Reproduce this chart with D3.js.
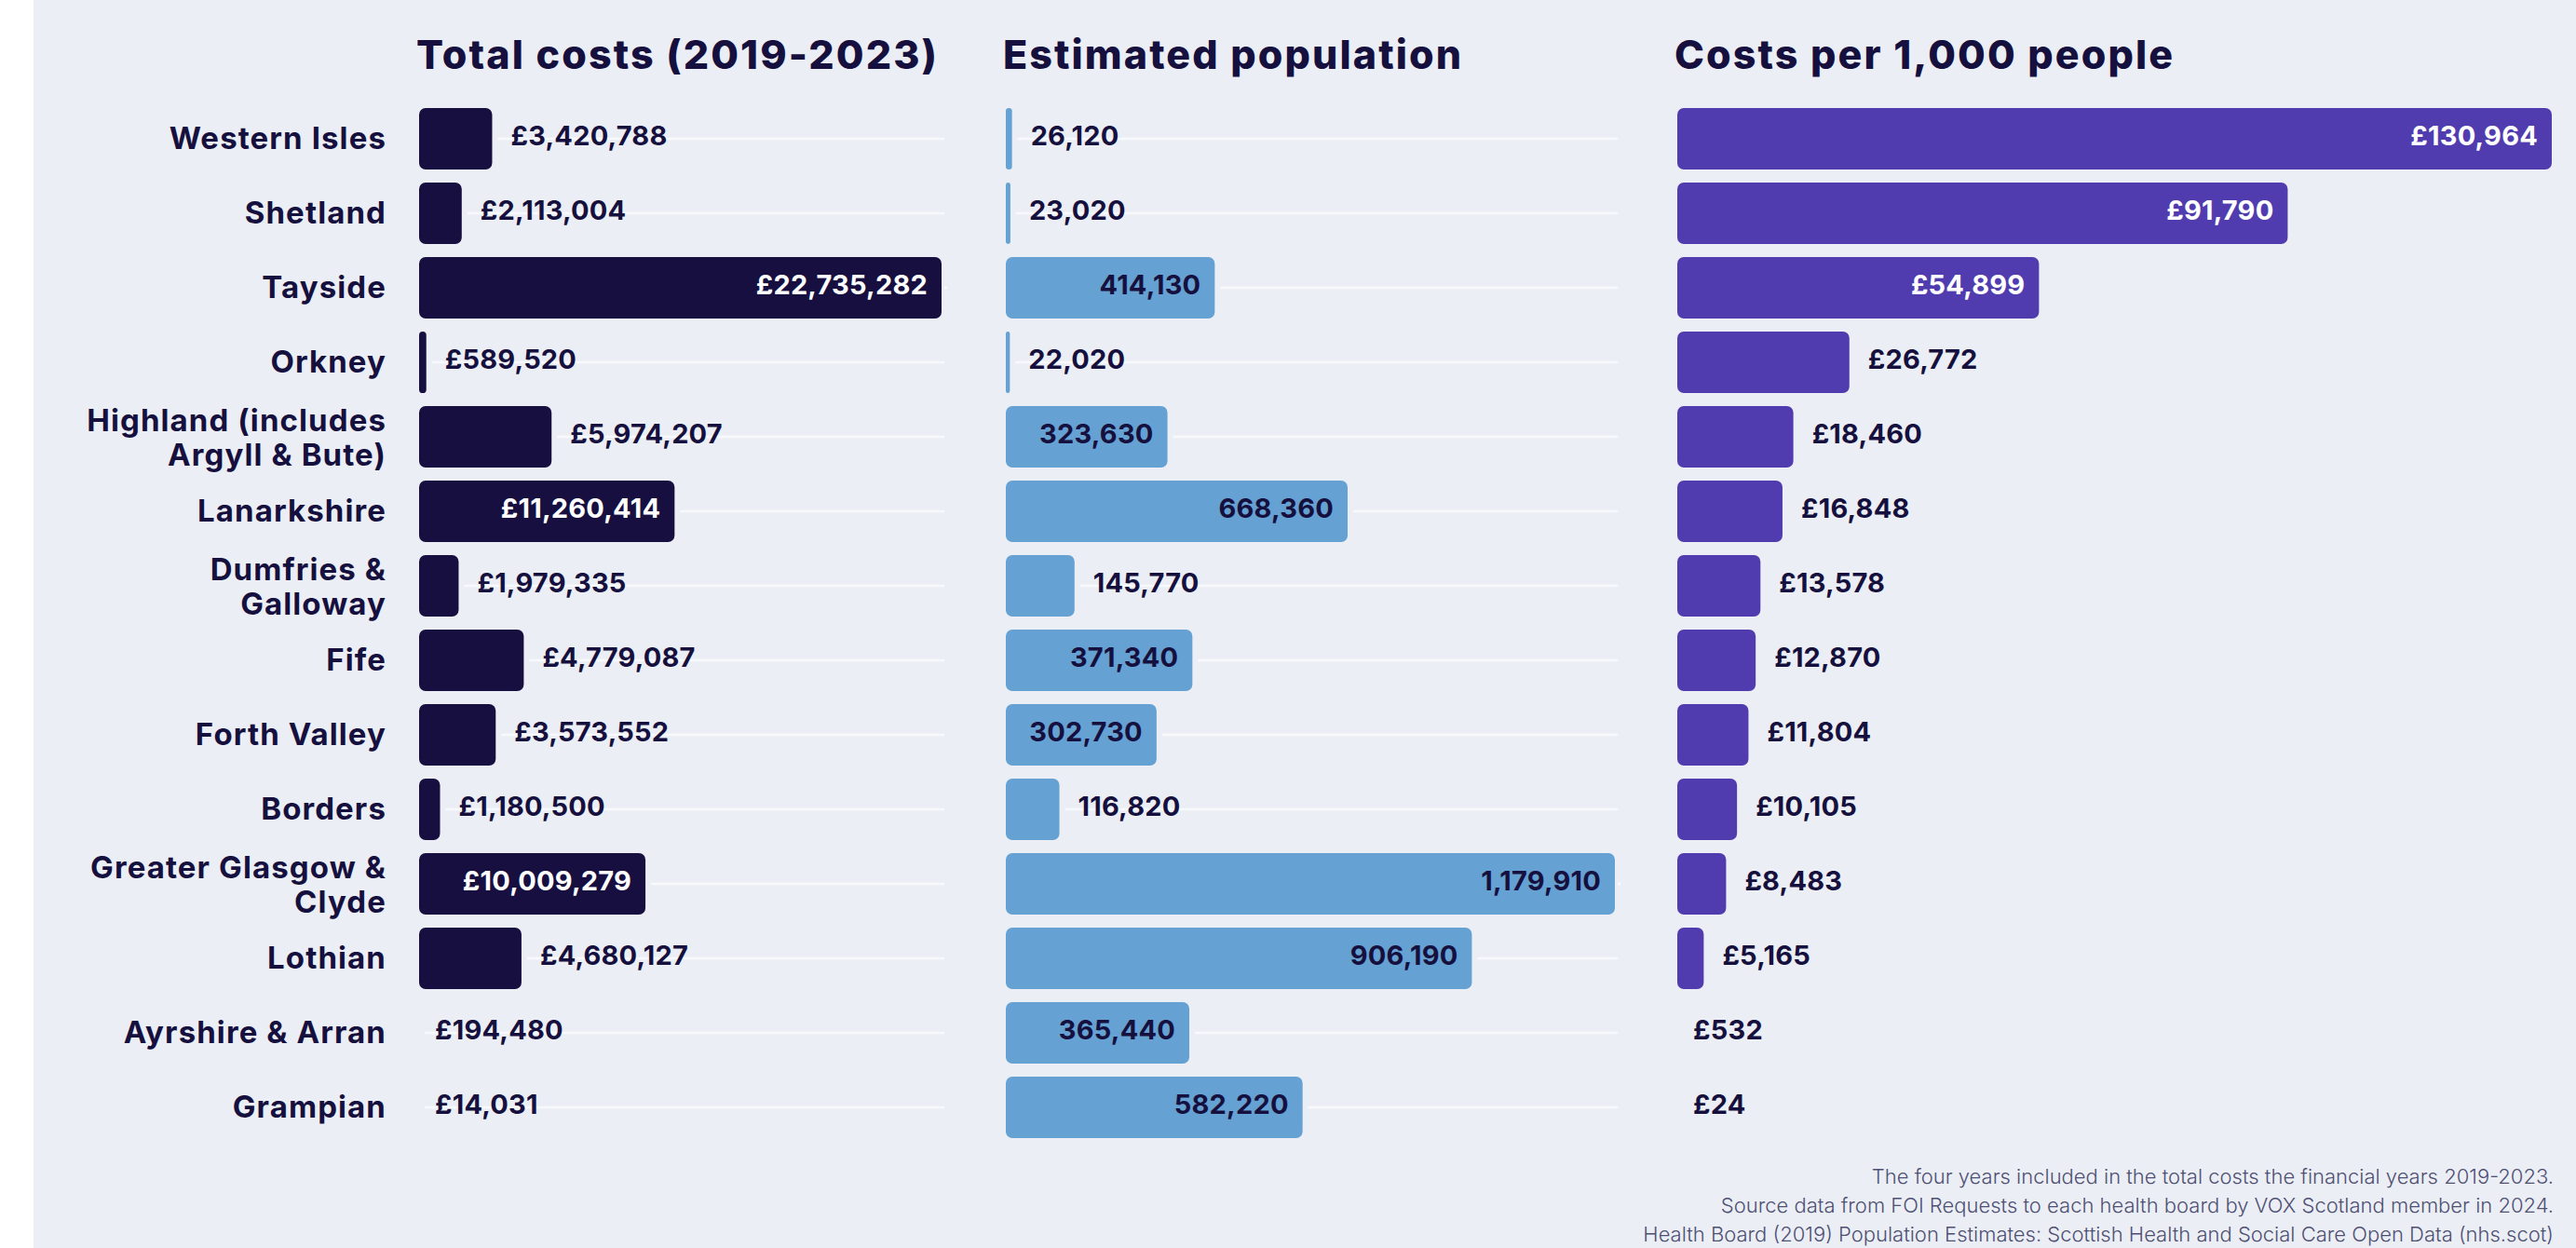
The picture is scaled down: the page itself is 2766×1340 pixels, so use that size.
<!DOCTYPE html>
<html>
<head>
<meta charset="utf-8">
<script src="https://cdn.jsdelivr.net/npm/d3@7"></script>
<style>
  html, body { margin: 0; padding: 0; background: #ffffff; }
  svg { display: block; }
</style>
</head>
<body>
<svg id="chart" width="2766" height="1340"></svg>
<script>
// ---- data ----
const categories = [
  "Western Isles", "Shetland", "Tayside", "Orkney",
  "Highland (includes\nArgyll & Bute)", "Lanarkshire", "Dumfries &\nGalloway",
  "Fife", "Forth Valley", "Borders", "Greater Glasgow &\nClyde", "Lothian",
  "Ayrshire & Arran", "Grampian"
];
const totalCosts = [3420788, 2113004, 22735282, 589520, 5974207, 11260414, 1979335,
  4779087, 3573552, 1180500, 10009279, 4680127, 194480, 14031];
const population = [26120, 23020, 414130, 22020, 323630, 668360, 145770,
  371340, 302730, 116820, 1179910, 906190, 365440, 582220];
const costsPer1000 = [130964, 91790, 54899, 26772, 18460, 16848, 13578,
  12870, 11804, 10105, 8483, 5165, 532, 24];
const panelTitles = ["Total costs (2019-2023)", "Estimated population", "Costs per 1,000 people"];
// labels drawn inside the bar
const insideTotal = ["Tayside", "Lanarkshire", "Greater Glasgow &\nClyde"];
const insidePopulation = ["Tayside", "Highland (includes\nArgyll & Bute)", "Lanarkshire", "Fife",
  "Forth Valley", "Greater Glasgow &\nClyde", "Lothian", "Ayrshire & Arran", "Grampian"];
const insidePer1000 = ["Western Isles", "Shetland", "Tayside"];
const notes = [
  "The four years included in the total costs the financial years 2019-2023.",
  "Source data from FOI Requests to each health board by VOX Scotland member in 2024.",
  "Health Board (2019) Population Estimates: Scottish Health and Social Care Open Data (nhs.scot)"
];

// ---- styling ----
const W = 2766, H = 1340;
const ink = "#16103e";
const bg = "#ebeff5";
const font = "Inter, 'Noto Sans', sans-serif";

const svg = d3.select("#chart");
svg.append("rect").attr("x", 36).attr("y", 0).attr("width", W - 36).attr("height", H).attr("fill", bg);

const y = d3.scaleBand().domain(categories).range([109, 1229]).paddingInner(0.175).paddingOuter(0.0875);

// category labels
const catG = svg.append("g");
categories.forEach(c => {
  const lines = c.split("\n");
  const cy = y(c) + y.bandwidth() / 2;
  const lx = 415;
  const t = catG.append("text")
    .attr("x", lx)
    .attr("text-anchor", "end")
    .attr("font-family", font).attr("font-weight", 700).attr("font-size", 33)
    .attr("letter-spacing", 1.1)
    .attr("fill", ink);
  if (lines.length === 1) {
    t.attr("y", cy + 11).text(c);
  } else {
    t.append("tspan").attr("x", lx).attr("y", cy - 6).text(lines[0]);
    t.append("tspan").attr("x", lx).attr("y", cy + 31).text(lines[1]);
  }
});

const panels = [
  { values: totalCosts, x0: 450, x1: 1011, inset: 7, color: "#160f3f", insideInk: "#ffffff",
    inside: insideTotal, fmt: v => "£" + d3.format(",")(v), grid: true, title: panelTitles[0] },
  { values: population, x0: 1080, x1: 1734, inset: 8, color: "#65a1d3", insideInk: ink,
    inside: insidePopulation, fmt: v => d3.format(",")(v), grid: true, title: panelTitles[1] },
  { values: costsPer1000, x0: 1801, x1: 2740, inset: 9, color: "#513caf", insideInk: "#ffffff",
    inside: insidePer1000, fmt: v => "£" + d3.format(",")(v), grid: false, title: panelTitles[2] }
];

panels.forEach(p => {
  const x = d3.scaleLinear().domain([0, d3.max(p.values)]).range([p.x0 - p.inset, p.x1]);
  const g = svg.append("g");
  const rows = categories.map((c, i) => ({ c, v: p.values[i] }));

  g.append("text")
    .attr("x", p.x0 - 3).attr("y", 74)
    .attr("font-family", font).attr("font-weight", 800).attr("font-size", 43)
    .attr("letter-spacing", 2.1)
    .attr("fill", ink).text(p.title);

  const barEnd = d => Math.max(p.x0, x(d.v));

  if (p.grid) {
    g.selectAll("line.grid").data(rows).join("line")
      .attr("x1", d => barEnd(d) + 6).attr("x2", p.x1 + 3)
      .attr("y1", d => y(d.c) + y.bandwidth() / 2).attr("y2", d => y(d.c) + y.bandwidth() / 2)
      .attr("stroke", "#f8f9fc").attr("stroke-width", 2.5);
  }

  g.selectAll("rect.bar").data(rows).join("rect")
    .attr("x", p.x0)
    .attr("y", d => y(d.c))
    .attr("width", d => Math.max(0, x(d.v) - p.x0))
    .attr("height", y.bandwidth())
    .attr("rx", d => Math.min(7, Math.max(0, x(d.v) - p.x0) / 2))
    .attr("fill", p.color);

  g.selectAll("text.val").data(rows).join("text")
    .attr("font-family", font).attr("font-weight", 700).attr("font-size", 29)
    .attr("letter-spacing", 0.2)
    .attr("y", d => y(d.c) + y.bandwidth() / 2 + 7)
    .each(function (d) {
      const inside = p.inside.includes(d.c);
      const tiny = x(d.v) < p.x0;
      d3.select(this)
        .attr("x", inside ? x(d.v) - 15 : barEnd(d) + (tiny ? 17 : 20))
        .attr("text-anchor", inside ? "end" : "start")
        .attr("fill", inside ? p.insideInk : ink)
        .text(p.fmt(d.v));
    });
});

// notes
svg.append("g").selectAll("text").data(notes).join("text")
  .attr("x", 2742)
  .attr("y", (d, i) => 1271 + i * 31)
  .attr("text-anchor", "end")
  .attr("font-family", font).attr("font-weight", 300).attr("font-size", 22)
  .attr("fill", "#4f4f74")
  .text(d => d);
</script>
</body>
</html>
